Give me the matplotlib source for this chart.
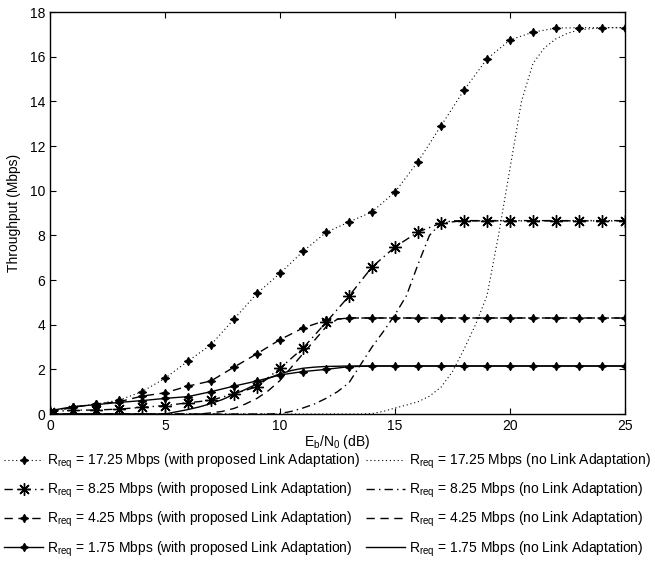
import numpy as np
import matplotlib
matplotlib.use("Agg")
import matplotlib.pyplot as plt

plt.rcParams['font.family'] = ['Liberation Sans', 'DejaVu Sans']
plt.rcParams['mathtext.default'] = 'regular'

# Eb/N0 points for the link adaptation curves (1 dB steps)
snr = np.arange(0, 26)

# throughput with proposed link adaptation (Mbps)
la_1725 = [0.1, 0.3, 0.45, 0.62, 1.0, 1.6, 2.37, 3.1, 4.25, 5.4, 6.3, 7.28, 8.13, 8.6, 9.05,
           9.94, 11.3, 12.9, 14.5, 15.9, 16.75, 17.1, 17.28, 17.3, 17.3, 17.3]
la_825 = [0.1, 0.17, 0.18, 0.22, 0.3, 0.38, 0.5, 0.62, 0.9, 1.22, 2.05, 2.95, 4.1, 5.28, 6.58,
          7.48, 8.15, 8.55, 8.66, 8.66, 8.66, 8.66, 8.66, 8.66, 8.66, 8.66]
la_425 = [0.1, 0.3, 0.45, 0.55, 0.8, 0.95, 1.25, 1.48, 2.1, 2.7, 3.33, 3.85, 4.2, 4.3, 4.3,
          4.3, 4.3, 4.3, 4.3, 4.3, 4.3, 4.3, 4.3, 4.3, 4.3, 4.3]
la_175 = [0.15, 0.33, 0.42, 0.52, 0.6, 0.7, 0.78, 1.0, 1.25, 1.48, 1.75, 1.9, 2.0, 2.12, 2.15,
          2.15, 2.15, 2.15, 2.15, 2.15, 2.15, 2.15, 2.15, 2.15, 2.15, 2.15]

# throughput without link adaptation (0.5 dB steps)
snr_fine = np.arange(0, 25.5, 0.5)
no_1725 = [0]*28 + [0.02, 0.12, 0.27, 0.4, 0.55, 0.8, 1.2, 1.9, 2.9, 4.0, 5.3, 8.0, 11.0, 14.0,
                    15.7, 16.4, 16.8, 17.05, 17.2, 17.25, 17.3, 17.3, 17.3]
no_825 = [0]*20 + [0.02, 0.12, 0.27, 0.45, 0.7, 1.0, 1.4, 2.2, 3.0, 3.7, 4.45, 5.3, 6.7, 8.0,
                   8.55, 8.65] + [8.65]*15
no_425 = [0]*13 + [0.0, 0.05, 0.12, 0.25, 0.45, 0.7, 1.05, 1.5, 2.1, 2.7, 3.3, 3.9, 4.25,
                   4.3] + [4.3]*24
no_175 = [0]*10 + [0.0, 0.1, 0.2, 0.32, 0.47, 0.65, 0.88, 1.1, 1.35, 1.6, 1.8, 1.95, 2.05,
                   2.1, 2.13, 2.14, 2.15] + [2.15]*24

labels_la = ['R$_{req}$ = 17.25 Mbps (with proposed Link Adaptation)',
             'R$_{req}$ = 8.25 Mbps (with proposed Link Adaptation)',
             'R$_{req}$ = 4.25 Mbps (with proposed Link Adaptation)',
             'R$_{req}$ = 1.75 Mbps (with proposed Link Adaptation)']
labels_no = ['R$_{req}$ = 17.25 Mbps (no Link Adaptation)',
             'R$_{req}$ = 8.25 Mbps (no Link Adaptation)',
             'R$_{req}$ = 4.25 Mbps (no Link Adaptation)',
             'R$_{req}$ = 1.75 Mbps (no Link Adaptation)']

fig = plt.figure(figsize=(6.55, 5.62), dpi=100)
ax = fig.add_axes([0.0763, 0.2633, 0.8779, 0.7153])

star4 = (4, 1, 0)
aster = (8, 2, 0)
dot = (0, (1, 2.5))
dash = (0, (6, 4))
dashdot = (0, (6, 3, 1, 3))

h = []
h += ax.plot(snr, la_1725, color='k', lw=0.8, ls=dot, marker=star4, ms=6, mfc='k', mew=0.8,
             label=labels_la[0])
h += ax.plot(snr, la_825, color='k', lw=1.0, ls=dashdot, marker=aster, ms=9, mew=1.0,
             label=labels_la[1])
h += ax.plot(snr, la_425, color='k', lw=1.0, ls=dash, marker=star4, ms=6, mfc='k', mew=0.8,
             label=labels_la[2])
h += ax.plot(snr, la_175, color='k', lw=1.0, ls='-', marker=star4, ms=6, mfc='k', mew=0.8,
             label=labels_la[3])
h += ax.plot(snr_fine, no_1725, color='k', lw=0.8, ls=dot, label=labels_no[0])
h += ax.plot(snr_fine, no_825, color='k', lw=1.0, ls=dashdot, label=labels_no[1])
h += ax.plot(snr_fine, no_425, color='k', lw=1.0, ls=dash, label=labels_no[2])
h += ax.plot(snr_fine, no_175, color='k', lw=1.0, ls='-', label=labels_no[3])

ax.set_xlim(0, 25)
ax.set_ylim(0, 18)
ax.set_xticks(np.arange(0, 26, 5))
ax.set_yticks(np.arange(0, 19, 2))
ax.tick_params(direction='in', top=True, right=True, length=4, labelsize=10)
for s in ax.spines.values():
    s.set_linewidth(1.0)

ax.set_xlabel('E$_b$/N$_0$ (dB)', fontsize=10, labelpad=0)
ax.set_ylabel('Throughput (Mbps)', fontsize=10, labelpad=6)

fig.legend(handles=h, ncol=2, loc='upper center', bbox_to_anchor=(0.5, 0.199),
           frameon=False, fontsize=10, handlelength=2.8, handletextpad=0.3,
           columnspacing=0.4, labelspacing=0.72, borderaxespad=0, borderpad=0.1)

fig.savefig('out.png', dpi=100)
